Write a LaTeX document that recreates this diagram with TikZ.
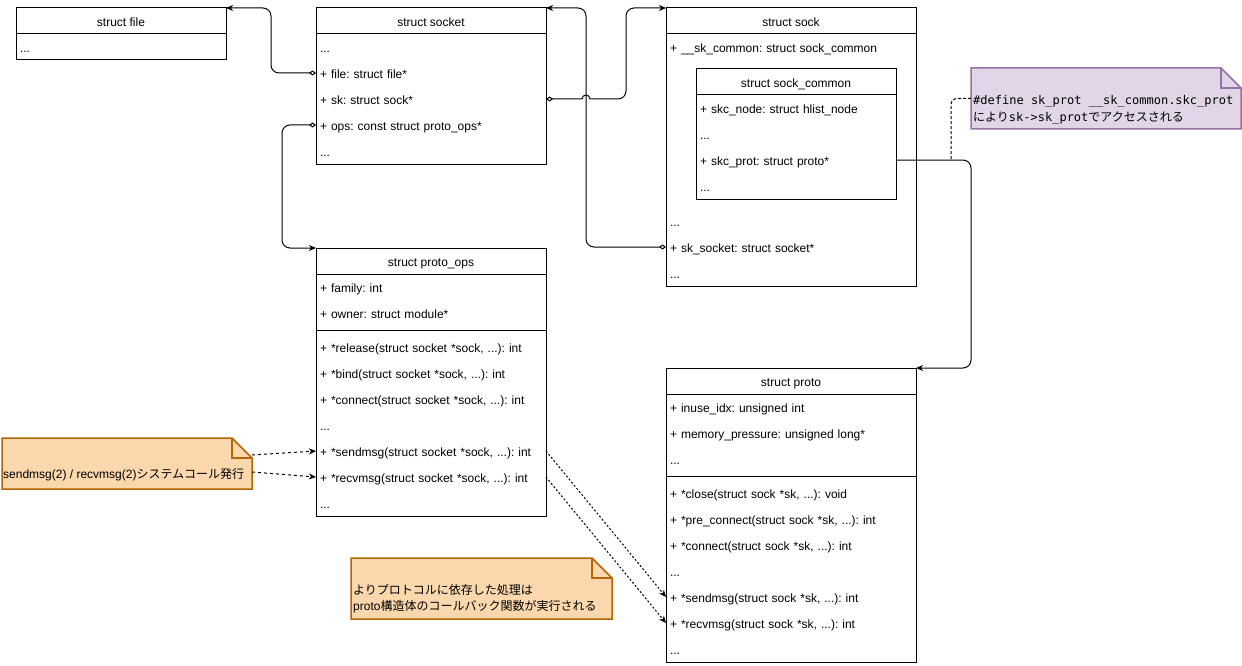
\documentclass[tikz,border=0pt]{standalone}
\usepackage{fontspec}
\setmainfont{Liberation Sans}
\newfontfamily\cjk{Noto Sans CJK JP}
\newfontfamily\monofam{DejaVu Sans Mono}
\usetikzlibrary{arrows.meta}
\definecolor{onfill}{HTML}{FAD7AC}
\definecolor{ondraw}{HTML}{B46504}
\definecolor{pnfill}{HTML}{E1D5E7}
\definecolor{pndraw}{HTML}{9673A6}
\begin{document}
\begin{tikzpicture}[x=1pt,y=-1pt,
  every node/.style={font=\fontsize{12}{14}\selectfont\frenchspacing, text=black},
  umlbox/.style={draw, line width=1pt, anchor=north west, inner sep=0pt, outer sep=0pt, fill=white},
  umlhead/.style={draw, line width=1pt, anchor=north west, inner sep=0pt, outer sep=0pt, minimum height=26pt, text height=11.5pt, text depth=0.5pt},
  umlrow/.style={anchor=north west, inner xsep=4pt, inner ysep=0pt, outer sep=0pt, minimum height=26pt, text height=11.5pt, text depth=0.5pt, align=left, text width=#1},
  sepline/.style={line width=1pt},
  conn/.style={line width=1pt, rounded corners=8pt},
  tipend/.style={-{Stealth[length=7pt,width=6pt,inset=2pt]}},
  diatip/.style={{Diamond[open,length=7pt,width=5pt]}-{Stealth[length=7pt,width=6pt,inset=2pt]}},
  dashconn/.style={line width=1pt, dash pattern=on 3pt off 3pt, -{Stealth[length=7pt,width=6pt,inset=2pt]}},
  notearea/.style={minimum width=#1, anchor=north west, inner sep=0pt, outer sep=0pt},
  onote/.style={draw=ondraw, fill=onfill, line width=1.5pt, line join=miter},
  pnote/.style={draw=pndraw, fill=pnfill, line width=1.5pt, line join=miter},
  notetext/.style={inner sep=0pt, align=left}
]
\fill[white] (0,0) rectangle (1242,666);
\useasboundingbox (0,0) rectangle (1242,666);

% struct file
\node[umlbox, minimum width=210pt, minimum height=52pt] (file) at (16,8) {};
\node[umlhead, minimum width=210pt] (filehd) at (file.north west) {struct file};
\node[umlrow=202pt] (fdots) at (16,34) {...};

% struct socket
\node[umlbox, minimum width=230pt, minimum height=156pt] (socket) at (316,8) {};
\node[umlhead, minimum width=230pt] (sockethd) at (socket.north west) {struct socket};
\node[umlrow=222pt] (sdots1) at (316,34) {...};
\node[umlrow=222pt] (sfile) at (316,60) {+ file: struct file*};
\node[umlrow=222pt] (ssk) at (316,86) {+ sk: struct sock*};
\node[umlrow=222pt] (sops) at (316,112) {+ ops: const struct proto\_ops*};
\node[umlrow=222pt] (sdots2) at (316,138) {...};

% struct sock
\node[umlbox, minimum width=250pt, minimum height=278pt] (sock) at (666,8) {};
\node[umlhead, minimum width=250pt] (sockhd) at (sock.north west) {struct sock};
\node[umlrow=242pt] (kcommon) at (666,34) {+ \_\_sk\_common: struct sock\_common};
\node[umlrow=242pt] (kdots) at (666,208) {...};
\node[umlrow=242pt] (ksocket) at (666,234) {+ sk\_socket: struct socket*};
\node[umlrow=242pt] (kdots2) at (666,260) {...};

% struct sock_common
\node[umlbox, minimum width=200pt, minimum height=130pt] (common) at (696,69) {};
\node[umlhead, minimum width=200pt] (commonhd) at (common.north west) {struct sock\_common};
\node[umlrow=192pt] (cnode) at (696,95) {+ skc\_node: struct hlist\_node};
\node[umlrow=192pt] (cdots) at (696,121) {...};
\node[umlrow=192pt] (cprot) at (696,147) {+ skc\_prot: struct proto*};
\node[umlrow=192pt] (cdots2) at (696,173) {...};

% struct proto_ops
\node[umlbox, minimum width=230pt, minimum height=268pt] (protoops) at (316,248) {};
\node[umlhead, minimum width=230pt] (protoopshd) at (protoops.north west) {struct proto\_ops};
\node[umlrow=222pt] (ofamily) at (316,274) {+ family: int};
\node[umlrow=222pt] (oowner) at (316,300) {+ owner: struct module*};
\draw[sepline] ([yshift=-82pt]protoops.north west) -- ([yshift=-82pt]protoops.north east);
\node[umlrow=222pt] (orelease) at (316,334) {+ *release(struct socket *sock, ...): int};
\node[umlrow=222pt] (obind) at (316,360) {+ *bind(struct socket *sock, ...): int};
\node[umlrow=222pt] (oconnect) at (316,386) {+ *connect(struct socket *sock, ...): int};
\node[umlrow=222pt] (odots) at (316,412) {...};
\node[umlrow=222pt] (osend) at (316,438) {+ *sendmsg(struct socket *sock, ...): int};
\node[umlrow=222pt] (orecv) at (316,464) {+ *recvmsg(struct socket *sock, ...): int};
\node[umlrow=222pt] (odots2) at (316,490) {...};

% struct proto
\node[umlbox, minimum width=250pt, minimum height=294pt] (proto) at (666,368) {};
\node[umlhead, minimum width=250pt] (protohd) at (proto.north west) {struct proto};
\node[umlrow=242pt] (pinuse) at (666,394) {+ inuse\_idx: unsigned int};
\node[umlrow=242pt] (pmem) at (666,420) {+ memory\_pressure: unsigned long*};
\node[umlrow=242pt] (pdots) at (666,446) {...};
\draw[sepline] ([yshift=-108pt]proto.north west) -- ([yshift=-108pt]proto.north east);
\node[umlrow=242pt] (pclose) at (666,480) {+ *close(struct sock *sk, ...): void};
\node[umlrow=242pt] (ppre) at (666,506) {+ *pre\_connect(struct sock *sk, ...): int};
\node[umlrow=242pt] (pconn) at (666,532) {+ *connect(struct sock *sk, ...): int};
\node[umlrow=242pt] (pdots2) at (666,558) {...};
\node[umlrow=242pt] (psend) at (666,584) {+ *sendmsg(struct sock *sk, ...): int};
\node[umlrow=242pt] (precv) at (666,610) {+ *recvmsg(struct sock *sk, ...): int};
\node[umlrow=242pt] (pdots3) at (666,636) {...};

% connectors
\draw[conn, diatip] (sfile.west) -| ([xshift=45pt]file.north east) -- (file.north east);
\draw[conn, diatip] (ksocket.west) -| ([xshift=40pt]socket.north east) -- (socket.north east);
\draw[line width=1pt, diatip] (ssk.east) -- ++(36,0) arc[start angle=180, end angle=0, radius=4pt]
   [rounded corners=8pt] -| ([xshift=-40pt]sock.north west) -- (sock.north west);
\draw[conn, diatip] (sops.west) -| ([xshift=-34pt]protoops.north west) -- (protoops.north west);
\draw[conn, tipend] (cprot.east) -| ([xshift=55pt]proto.north east) -- (proto.north east);
\coordinate (tap) at ([xshift=55pt]cprot.east);

% purple note
\node[notearea=270pt, minimum height=61pt] (pn) at (971,68) {};
\draw[pnote] (pn.north west) -- ([xshift=-20pt]pn.north east) -- ([yshift=-20pt]pn.north east) -- (pn.south east) -- (pn.south west) -- cycle;
\draw[pnote, fill=none] ([xshift=-20pt]pn.north east) -- ([xshift=-20pt,yshift=-20pt]pn.north east) -- ([yshift=-20pt]pn.north east);
\node[notetext, anchor=west, font=\fontsize{12}{17.5}\selectfont] (pntext) at (973,110)
  {{\monofam \#define sk\_prot \_\_sk\_common.skc\_prot}\\{\cjk により}{\monofam sk->sk\_prot}{\cjk でアクセスされる}};
\draw[line width=1pt, dash pattern=on 3pt off 2pt, rounded corners=6pt] (pn.west) -| (tap);

% orange note 1
\node[notearea=250pt, minimum height=51pt] (on1) at (2,438) {};
\draw[onote] (on1.north west) -- ([xshift=-20pt]on1.north east) -- ([yshift=-20pt]on1.north east) -- (on1.south east) -- (on1.south west) -- cycle;
\draw[onote, fill=none] ([xshift=-20pt]on1.north east) -- ([xshift=-20pt,yshift=-20pt]on1.north east) -- ([yshift=-20pt]on1.north east);
\node[notetext, anchor=west, text height=9pt, text depth=3pt] (on1text) at (3,475)
  {sendmsg(2) / recvmsg(2){\cjk システムコール発行}};

% orange note 2
\node[notearea=261pt, minimum height=61pt] (on2) at (351,558) {};
\draw[onote] (on2.north west) -- ([xshift=-20pt]on2.north east) -- ([yshift=-20pt]on2.north east) -- (on2.south east) -- (on2.south west) -- cycle;
\draw[onote, fill=none] ([xshift=-20pt]on2.north east) -- ([xshift=-20pt,yshift=-20pt]on2.north east) -- ([yshift=-20pt]on2.north east);
\node[notetext, anchor=west, font=\fontsize{12}{16}\selectfont] (on2text) at (353,599)
  {{\cjk よりプロトコルに依存した処理は}\\proto{\cjk 構造体のコールバック関数が実行される}};

% dashed call arrows
\draw[dashconn] ([yshift=-17pt]on1.north east) -- (osend.west);
\draw[dashconn] ([yshift=-34pt]on1.north east) -- (orecv.west);
\draw[dashconn, dash pattern=on 2pt off 2pt] (osend.east) -- (psend.west);
\draw[dashconn, dash pattern=on 2pt off 2pt] (orecv.east) -- (precv.west);
\end{tikzpicture}
\end{document}
